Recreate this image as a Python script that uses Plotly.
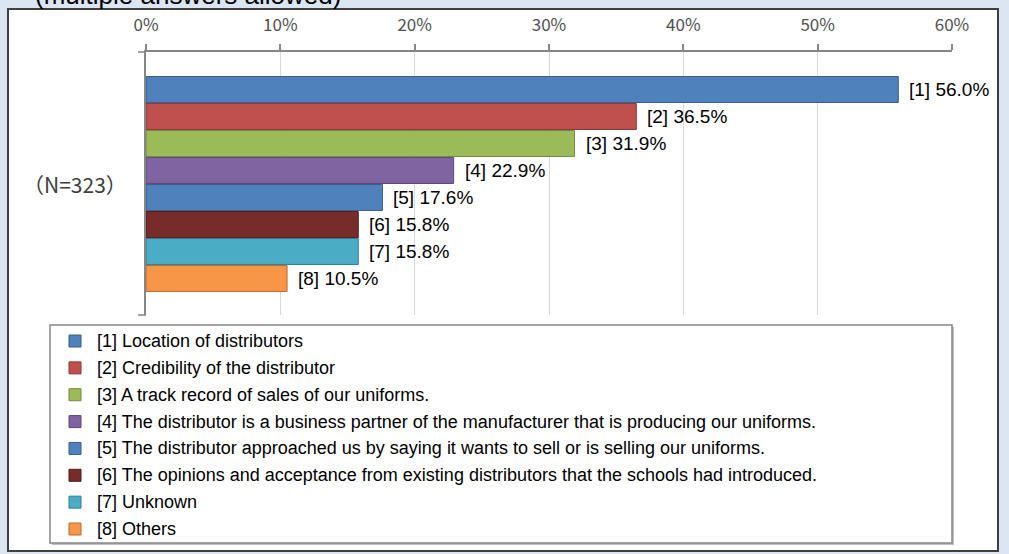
import plotly.graph_objects as go

# Survey: reasons for choosing distributors (multiple answers allowed), N=323
codes = ["[1]", "[2]", "[3]", "[4]", "[5]", "[6]", "[7]", "[8]"]
reasons = [
    "Location of distributors",
    "Credibility of the distributor",
    "A track record of sales of our uniforms.",
    "The distributor is a business partner of the manufacturer that is producing our uniforms.",
    "The distributor approached us by saying it wants to sell or is selling our uniforms.",
    "The opinions and acceptance from existing distributors that the schools had introduced.",
    "Unknown",
    "Others",
]
shares = [56.0, 36.5, 31.9, 22.9, 17.6, 15.8, 15.8, 10.5]
x_ticks = [0, 10, 20, 30, 40, 50, 60]
x_tick_text = ["0%", "10%", "20%", "30%", "40%", "50%", "60%"]
sample_note = "（N=323）"
title_text = "(multiple answers allowed)"

fills = ["#4f81bd", "#c0504d", "#9bbb59", "#8064a2", "#4f81bd", "#772c2a", "#4bacc6", "#f79646"]
edges = ["#385d8a", "#8c3836", "#71893f", "#5c4776", "#385d8a", "#4f1d1c", "#357d91", "#b66d31"]

W, H = 1009, 554
L, R, T, B = 146, 952, 52, 315  # plot area in pixels


def px(xp):
    return (xp - L) / (R - L)


def py(yp):
    return (B - yp) / (B - T)


rows = list(range(len(shares)))

fig = go.Figure()
fig.add_trace(go.Bar(
    x=shares,
    y=rows,
    orientation="h",
    marker=dict(color=fills, line=dict(color=edges, width=1)),
    hoverinfo="skip",
    showlegend=False,
))

annotations = []
for i, (c, v) in enumerate(zip(codes, shares)):
    annotations.append(dict(
        x=v, y=i, xref="x", yref="y", text=f"{c} {v:.1f}%",
        xanchor="left", yanchor="middle", xshift=9, showarrow=False,
        font=dict(family="Liberation Sans, Arial", size=19, color="#000000"),
    ))

# sample size note
annotations.append(dict(
    x=px(75), y=py(184), xref="paper", yref="paper", text=sample_note,
    xanchor="center", yanchor="middle", showarrow=False,
    font=dict(family="Noto Sans CJK JP", size=21, color="#404040"),
))

# heading, partly above the page edge
annotations.append(dict(
    x=px(33), y=py(-5), xref="paper", yref="paper", text=title_text,
    xanchor="left", yanchor="middle", showarrow=False,
    font=dict(family="Liberation Sans, Arial", size=26, color="#000000"),
))

shapes = [
    # white chart panel
    dict(type="rect", xref="paper", yref="paper",
         x0=px(8), x1=px(998), y0=py(9), y1=py(551),
         fillcolor="#ffffff", line=dict(color="#404040", width=2), layer="below"),
    # legend frame shadow and frame
    dict(type="rect", xref="paper", yref="paper",
         x0=px(52), x1=px(954), y0=py(327), y1=py(545),
         fillcolor="#bfbfbf", line=dict(width=0), layer="below"),
    dict(type="rect", xref="paper", yref="paper",
         x0=px(50), x1=px(952), y0=py(325), y1=py(543),
         fillcolor="#ffffff", line=dict(color="#868686", width=1.5), layer="below"),
    # category-axis end ticks
    dict(type="line", xref="paper", yref="paper",
         x0=px(138), x1=px(146), y0=py(315), y1=py(315),
         line=dict(color="#868686", width=1.5)),
    dict(type="line", xref="paper", yref="paper",
         x0=px(138), x1=px(146), y0=py(52), y1=py(52),
         line=dict(color="#868686", width=1.5)),
]

# legend: swatch + label per reason
row0, pitch = 341, 26.86
for i, (c, txt) in enumerate(zip(codes, reasons)):
    yc = row0 + i * pitch
    shapes.append(dict(
        type="rect", xref="paper", yref="paper",
        x0=px(69), x1=px(81), y0=py(yc - 6), y1=py(yc + 6),
        fillcolor=fills[i], line=dict(color=edges[i], width=1),
    ))
    annotations.append(dict(
        x=px(95), y=py(yc), xref="paper", yref="paper", text=f"{c} {txt}",
        xanchor="left", yanchor="middle", showarrow=False,
        font=dict(family="Liberation Sans, Arial", size=18, color="#000000"),
    ))

fig.update_layout(
    width=W, height=H,
    margin=dict(l=L, r=W - R, t=T, b=H - B, pad=0, autoexpand=False),
    paper_bgcolor="#dce6f2",
    plot_bgcolor="rgba(0,0,0,0)",
    bargap=0.04,
    showlegend=False,
    annotations=annotations,
    shapes=shapes,
    xaxis=dict(
        side="top", range=[0, 60], tickvals=x_ticks, ticktext=x_tick_text,
        showgrid=True, gridcolor="#d9d9d9", gridwidth=1,
        showline=True, linecolor="#868686", linewidth=1.5,
        ticks="outside", ticklen=6, tickcolor="#868686", tickwidth=1.5,
        ticklabelstandoff=6, automargin=False,
        tickfont=dict(family="Noto Sans CJK JP", size=17, color="#505050"),
        zeroline=False, fixedrange=True,
    ),
    yaxis=dict(
        range=[8.352, -1.389], showticklabels=False, showgrid=False,
        zeroline=False, showline=True, linecolor="#868686", linewidth=1.5,
        ticks="", fixedrange=True, automargin=False,
    ),
)

fig.write_html("out.html")
